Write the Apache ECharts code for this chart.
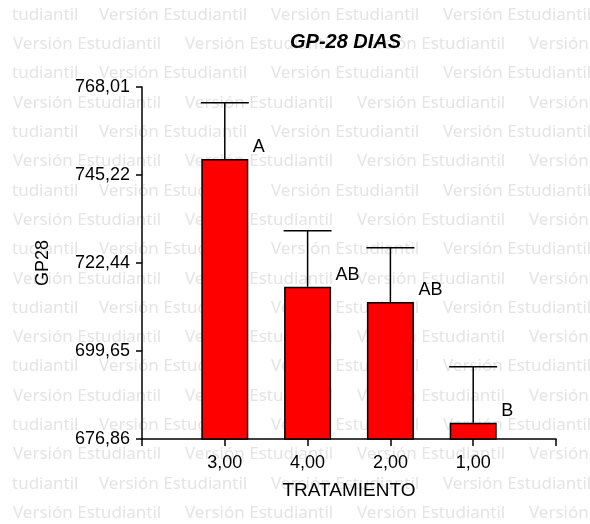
<!DOCTYPE html>
<html>
<head>
<meta charset="utf-8">
<script src="https://cdn.jsdelivr.net/npm/echarts@6/dist/echarts.min.js"></script>
<style>
html,body{margin:0;padding:0;background:#fff;}
#c{width:590px;height:524px;}
</style>
</head>
<body>
<div id="c"></div>
<script>
const categories = ['3,00', '4,00', '2,00', '1,00'];
const means = [749.37, 716.30, 712.34, 681.08];
const errors = [14.57, 14.50, 14.06, 14.50];
const letters = ['A', 'AB', 'AB', 'B'];
const yTicks = [676.86, 699.65, 722.44, 745.22, 768.01];

const FONT = '"Liberation Sans", Arial, sans-serif';
const axisData = [''].concat(categories, ['']);
const barData = ['-'].concat(means, ['-']);
const errData = categories.map((c, i) => [i + 1, means[i], means[i] + errors[i]]);

// background watermark (decoration)
const WM_FONT = '17px "Noto Sans"';
const WM_COLOR = '#e4e4e4';
const wm = [];
for (let k = 0; k < 18; k++) {
  const y = 15 + 29.3 * k;
  if (k % 2 === 0) {
    wm.push({type: 'text', x: 12, y: y, silent: true, style: {text: 'tudiantil', font: WM_FONT, fill: WM_COLOR, verticalAlign: 'middle'}});
    for (let j = 0; j < 3; j++) {
      wm.push({type: 'text', x: 99 + 172 * j, y: y, silent: true, style: {text: 'Versión Estudiantil', font: WM_FONT, fill: WM_COLOR, verticalAlign: 'middle'}});
    }
  } else {
    for (let j = 0; j < 4; j++) {
      wm.push({type: 'text', x: 13 + 172 * j, y: y, silent: true, style: {text: 'Versión Estudiantil', font: WM_FONT, fill: WM_COLOR, verticalAlign: 'middle'}});
    }
  }
}

const chart = echarts.init(document.getElementById('c'), null, {renderer: 'canvas'});
chart.setOption({
  animation: false,
  backgroundColor: '#fff',
  graphic: [{type: 'group', z: -10, silent: true, children: wm}],
  title: {
    text: 'GP-28 DIAS',
    left: 290, top: 32, padding: 0,
    textStyle: {fontFamily: FONT, fontSize: 20, fontWeight: 'bold', fontStyle: 'italic', color: '#000'}
  },
  grid: {left: 142, right: 34, top: 87, bottom: 85},
  xAxis: {
    type: 'category',
    data: axisData,
    boundaryGap: false,
    name: 'TRATAMIENTO',
    nameLocation: 'middle',
    nameGap: 42,
    nameTextStyle: {fontFamily: FONT, fontSize: 19, color: '#000'},
    axisLine: {lineStyle: {color: '#000', width: 1.5}},
    axisTick: {show: true, interval: 0, length: 7, lineStyle: {color: '#000', width: 1.5}},
    axisLabel: {interval: 0, margin: 15, fontFamily: FONT, fontSize: 18, color: '#000'},
    splitLine: {show: false}
  },
  yAxis: {
    type: 'value',
    min: 676.86,
    max: 768.01,
    name: 'GP28',
    nameLocation: 'middle',
    nameGap: 90,
    nameRotate: 90,
    nameTextStyle: {fontFamily: FONT, fontSize: 18, color: '#000'},
    axisLine: {show: true, lineStyle: {color: '#000', width: 1.5}},
    axisTick: {show: true, length: 6, customValues: yTicks, lineStyle: {color: '#000', width: 1.5}},
    axisLabel: {
      customValues: yTicks,
      margin: 12,
      fontFamily: FONT, fontSize: 18, color: '#000',
      formatter: v => v.toFixed(2).replace('.', ',')
    },
    splitLine: {show: false}
  },
  series: [
    {
      type: 'bar',
      data: barData,
      barWidth: 47,
      itemStyle: {color: '#ff0000', borderColor: '#000', borderWidth: 1.5},
      z: 2
    },
    {
      type: 'custom',
      data: errData,
      z: 3,
      clip: false,
      renderItem: function (params, api) {
        const x = api.value(0);
        const p0 = api.coord([x, api.value(1)]);
        const p1 = api.coord([x, api.value(2)]);
        const hw = 24;
        return {
          type: 'group',
          children: [
            {type: 'line', shape: {x1: p0[0], y1: p0[1], x2: p1[0], y2: p1[1]}, style: {stroke: '#000', lineWidth: 1.5}},
            {type: 'line', shape: {x1: p1[0] - hw, y1: p1[1], x2: p1[0] + hw, y2: p1[1]}, style: {stroke: '#000', lineWidth: 1.5}},
            {type: 'text', x: p0[0] + hw + 4, y: p0[1] - 12, style: {text: letters[params.dataIndex], fill: '#000', font: '18px ' + FONT, verticalAlign: 'middle', align: 'left'}}
          ]
        };
      }
    }
  ]
});
</script>
</body>
</html>
